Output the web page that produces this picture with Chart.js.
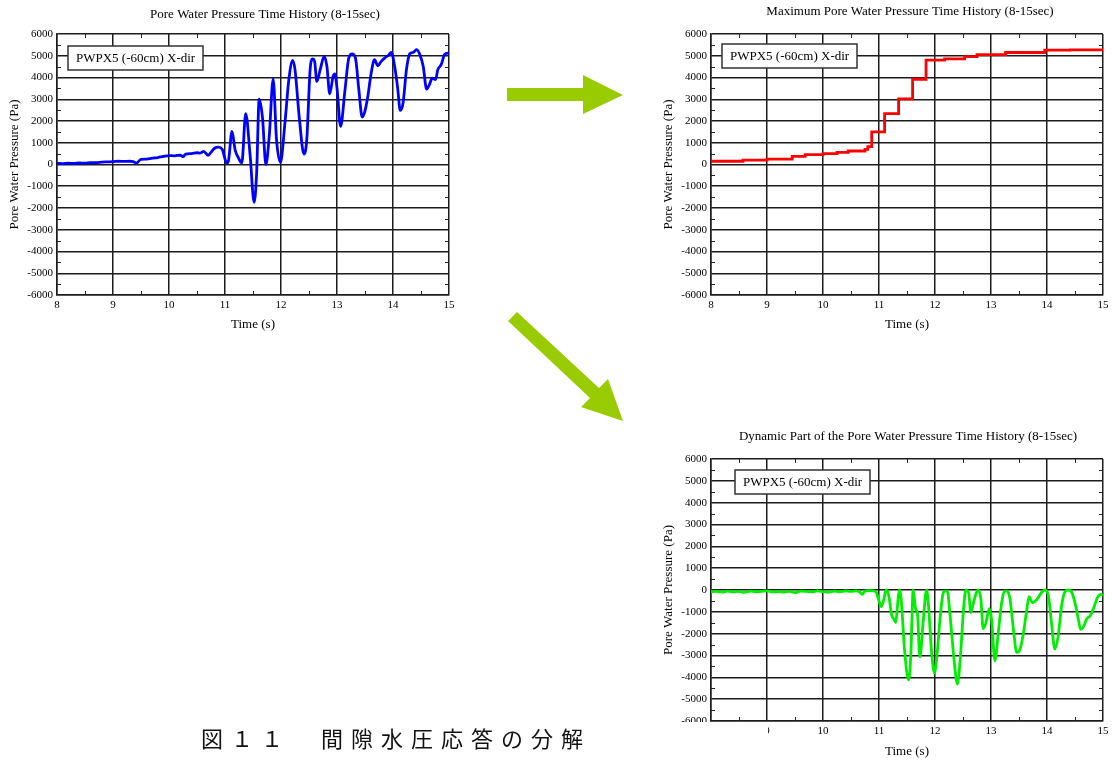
<!DOCTYPE html>
<html>
<head>
<meta charset="utf-8">
<script src="https://cdn.jsdelivr.net/npm/chart.js@4.4.1/dist/chart.umd.min.js"></script>
<style>
  html, body { margin: 0; padding: 0; background: #fff; }
  body { width: 1113px; height: 760px; position: relative; overflow: hidden; }
  canvas { position: absolute; }
  #c1 { left: 0; top: 0; }
  #c2 { left: 650px; top: 0; }
  #c3 { left: 650px; top: 420px; }
  #arrows { position: absolute; left: 0; top: 0; }
  #caption { position: absolute; left: 170px; top: 722px; width: 598px; height: 38px; background: #fff; }
  #caption span {
    position: absolute; left: 31px; top: 4px; white-space: nowrap; color: #111;
    font: 22px/22px "Noto Sans CJK JP", sans-serif; letter-spacing: 8px;
  }
</style>
</head>
<body>
<canvas id="c1" width="460" height="340"></canvas>
<canvas id="c2" width="463" height="340"></canvas>
<canvas id="c3" width="463" height="340"></canvas>

<svg id="arrows" width="1113" height="760">
  <polygon fill="#99cc00" points="507,88 583,88 583,75 623,95 583,114 583,101 507,101"/>
  <polygon fill="#99cc00" points="517,312 599,388 608,379 623,421 581,407 590,398 508,321"/>
</svg>

<div id="caption"><span>図１１　間隙水圧応答の分解</span></div>

<script>
// measured pore water pressure, PWPX5 (-60cm), X direction
var timeRaw = [8.0, 8.1, 8.2, 8.3, 8.4, 8.5, 8.6, 8.7, 8.8, 8.9, 9.0, 9.1, 9.2, 9.3, 9.36, 9.42, 9.5, 9.6,
  9.7, 9.8, 9.9, 10.0, 10.1, 10.2, 10.25, 10.3, 10.4, 10.5, 10.55, 10.62, 10.7, 10.75, 10.82, 10.88,
  10.95, 11.03, 11.06, 11.125, 11.18, 11.24, 11.3, 11.37, 11.45, 11.52, 11.565, 11.61, 11.67, 11.73,
  11.79, 11.86, 11.92, 11.99, 12.07, 12.14, 12.21, 12.25, 12.33, 12.41, 12.46, 12.52, 12.56, 12.6,
  12.64, 12.7, 12.77, 12.82, 12.87, 12.93, 12.96, 13.0, 13.065, 13.14, 13.21, 13.27, 13.33, 13.39,
  13.45, 13.49, 13.55, 13.61, 13.67, 13.73, 13.79, 13.85, 13.91, 13.97, 14.03, 14.08, 14.13, 14.18,
  14.24, 14.3, 14.36, 14.42, 14.48, 14.54, 14.6, 14.65, 14.7, 14.76, 14.8, 14.86, 14.92, 14.98, 15.0];
var pwpRaw = [50, 40, 60, 50, 70, 60, 90, 80, 110, 120, 130, 150, 140, 150, 130, 70, 240, 250,
  290, 320, 370, 410, 400, 430, 360, 480, 500, 540, 520, 600, 420, 560, 760, 800,
  700, 70, 150, 1520, 680, 300, 70, 2335, 375, -1740, -390, 3000, 2140, 0,
  1300, 3930, 1140, 100, 1900, 3900, 4790, 4360, 2060, 480, 1140, 4360, 4850, 4740,
  3820, 4360, 4970, 4510, 3250, 4050, 4170, 3510, 1750, 3360, 4890, 5090, 4890, 3440,
  2180, 2370, 3130, 4200, 4820, 4540, 4740, 4890, 5000, 5150, 4510, 3590, 2490, 2830,
  4360, 5090, 5150, 5280, 5050, 4510, 3470, 3670, 3970, 3900, 4360, 4590, 5050, 5120, 5100];

// running maximum (step changes)
var timeMax = [8.0, 8.57, 9.0, 9.45, 9.68, 10.0, 10.25, 10.45, 10.75, 10.8, 10.87, 11.1, 11.35,
  11.6, 11.84, 12.17, 12.53, 12.75, 13.26, 13.96, 14.41, 15.0];
var pwpMax = [100, 150, 200, 250, 370, 450, 500, 560, 620, 700, 820, 1500, 2340,
  3020, 3920, 4800, 4860, 4960, 5050, 5150, 5260, 5270];

// dynamic part
var timeDyn = [8.0, 8.1, 8.2, 8.3, 8.4, 8.5, 8.6, 8.7, 8.8, 8.9, 9.0, 9.1, 9.2, 9.3, 9.4, 9.5, 9.6,
  9.7, 9.8, 9.9, 10.0, 10.1, 10.2, 10.3, 10.4, 10.5, 10.6, 10.65, 10.7, 10.75, 10.8, 10.9, 10.95,
  11.0, 11.04, 11.08, 11.125, 11.17, 11.23, 11.26, 11.3, 11.33, 11.36, 11.39, 11.46, 11.53, 11.57,
  11.61, 11.655, 11.685, 11.73, 11.79, 11.85, 11.88, 11.94, 11.99, 12.04, 12.1, 12.16, 12.22, 12.27,
  12.345, 12.4, 12.45, 12.51, 12.55, 12.6, 12.64, 12.68, 12.74, 12.77, 12.82, 12.86, 12.91, 12.97,
  13.01, 13.07, 13.13, 13.19, 13.24, 13.29, 13.34, 13.4, 13.46, 13.52, 13.58, 13.64, 13.68, 13.74,
  13.82, 13.9, 13.96, 14.02, 14.08, 14.14, 14.2, 14.26, 14.32, 14.38, 14.44, 14.5, 14.56, 14.6,
  14.66, 14.71, 14.77, 14.83, 14.9, 14.96, 15.0];
var pwpDyn = [-80, -60, -100, -50, -90, -60, -110, -50, -80, -60, -40, -90, -70, -100, -60, -120, -50,
  -60, -90, -40, -70, -100, -50, -80, -40, -60, -40, -80, -200, -50, -30, -40, -100,
  -500, -760, -500, 0, -200, -1190, -1310, -1490, -730, 0, -270, -2860, -4120, -2860,
  0, -880, -1030, -3060, -1420, 0, -580, -2860, -3800, -2860, -1030, -50, -50, -1190,
  -3320, -4310, -3170, -880, 0, -120, -1030, -650, -120, 0, -430, -1770, -1490, -850,
  -1340, -3240, -1950, -580, -50, -50, -430, -1800, -2860, -2710, -1950, -880, -300, -580,
  -430, -120, 0, -200, -1490, -2710, -2100, -730, -90, 0, -90, -580, -1340, -1800,
  -1640, -1310, -1190, -850, -350, -200, -240];

var timeTicks = [8, 15];
var pwpTicks = [-6000, 6000];

var SERIF = '"Liberation Serif", "Times New Roman", serif';

function points(xs, ys) {
  return xs.map(function (x, i) { return { x: x, y: ys[i] }; });
}

function plain(v) { return String(v); }

// heading text centred on a given x
var heading = {
  id: "heading",
  afterDraw: function (chart, args, opts) {
    var ctx = chart.ctx;
    ctx.save();
    ctx.font = "13px " + SERIF;
    ctx.fillStyle = "#000";
    ctx.textAlign = "center";
    ctx.textBaseline = "middle";
    ctx.fillText(opts.text, opts.x, opts.y);
    ctx.restore();
  }
};

// boxed series tag in the upper left of the plot
var tag = {
  id: "tag",
  afterDatasetsDraw: function (chart, args, opts) {
    var ctx = chart.ctx;
    ctx.save();
    ctx.fillStyle = "#fff";
    ctx.fillRect(opts.left, opts.top, opts.width, opts.height);
    ctx.strokeStyle = "#333";
    ctx.lineWidth = 1.5;
    ctx.strokeRect(opts.left, opts.top, opts.width, opts.height);
    ctx.font = "13px " + SERIF;
    ctx.fillStyle = "#000";
    ctx.textBaseline = "middle";
    ctx.fillText(opts.text, opts.left + 8, opts.top + opts.height / 2 + 0.5);
    ctx.restore();
  }
};

// inside minor ticks on all four sides of the frame
var minorTicks = {
  id: "minorTicks",
  afterDraw: function (chart) {
    var a = chart.chartArea, sx = chart.scales.x, sy = chart.scales.y, ctx = chart.ctx;
    ctx.save();
    ctx.strokeStyle = "#222";
    ctx.lineWidth = 1;
    ctx.beginPath();
    for (var t = timeTicks[0] + 0.5; t < timeTicks[1]; t += 1) {
      var px = Math.round(sx.getPixelForValue(t)) + 0.5;
      ctx.moveTo(px, a.top); ctx.lineTo(px, a.top + 4);
      ctx.moveTo(px, a.bottom); ctx.lineTo(px, a.bottom - 4);
    }
    for (var v = pwpTicks[0] + 500; v < pwpTicks[1]; v += 1000) {
      var py = Math.round(sy.getPixelForValue(v)) + 0.5;
      ctx.moveTo(a.left, py); ctx.lineTo(a.left + 4, py);
      ctx.moveTo(a.right, py); ctx.lineTo(a.right - 4, py);
    }
    ctx.stroke();
    ctx.restore();
  }
};

function makeChart(id, opts) {
  var ds = {
    data: points(opts.xs, opts.ys),
    borderColor: opts.color,
    borderWidth: 2.8,
    pointRadius: 0,
    fill: false
  };
  if (opts.stepped) ds.stepped = "after";
  else ds.cubicInterpolationMode = "monotone";

  return new Chart(document.getElementById(id), {
    type: "line",
    data: { datasets: [ds] },
    plugins: [heading, tag, minorTicks],
    options: {
      responsive: false,
      animation: false,
      layout: { padding: { top: opts.top, right: opts.right, left: 0, bottom: 0 } },
      plugins: {
        legend: { display: false },
        tooltip: { enabled: false },
        heading: { text: opts.title, x: opts.titleX, y: opts.titleY },
        tag: { text: "PWPX5 (-60cm) X-dir", left: opts.tag[0], top: opts.tag[1], width: 135, height: 24 }
      },
      scales: {
        x: {
          type: "linear",
          min: timeTicks[0],
          max: timeTicks[1],
          afterFit: function (s) { s.height = opts.xh; },
          ticks: { stepSize: 1, color: "#000", padding: 4, callback: plain, font: { family: SERIF, size: 11 } },
          grid: { color: "#1c1c1c", lineWidth: 1.5, drawTicks: false },
          border: { color: "#1c1c1c", width: 1.5 },
          title: { display: true, text: "Time (s)", color: "#000", padding: { top: 0, bottom: opts.xtp },
            font: { family: SERIF, size: 13 } }
        },
        y: {
          min: pwpTicks[0],
          max: pwpTicks[1],
          afterFit: function (s) { s.width = opts.yw; },
          ticks: { stepSize: 1000, color: "#000", padding: 4, callback: plain, font: { family: SERIF, size: 11 } },
          grid: { color: "#1c1c1c", lineWidth: 1.5, drawTicks: false },
          border: { color: "#1c1c1c", width: 1.5 },
          title: { display: true, text: "Pore Water Pressure (Pa)", color: "#000",
            padding: { top: opts.ytp, bottom: 0 }, font: { family: SERIF, size: 13 } }
        }
      }
    }
  });
}

makeChart("c1", {
  xs: timeRaw, ys: pwpRaw, color: "#0000ff",
  title: "Pore Water Pressure Time History (8-15sec)", titleX: 265, titleY: 15,
  top: 34, right: 11, xh: 45, yw: 57, xtp: 8, ytp: 7, tag: [68, 46]
});

makeChart("c2", {
  xs: timeMax, ys: pwpMax, color: "#ff0000", stepped: true,
  title: "Maximum Pore Water Pressure Time History (8-15sec)", titleX: 260, titleY: 12,
  top: 34, right: 10, xh: 45, yw: 61, xtp: 8, ytp: 11, tag: [72, 44]
});

makeChart("c3", {
  xs: timeDyn, ys: pwpDyn, color: "#00ee00",
  title: "Dynamic Part of the Pore Water Pressure Time History (8-15sec)", titleX: 258, titleY: 17,
  top: 39, right: 10, xh: 39, yw: 61, xtp: 1, ytp: 11, tag: [85, 50]
});
</script>
</body>
</html>
